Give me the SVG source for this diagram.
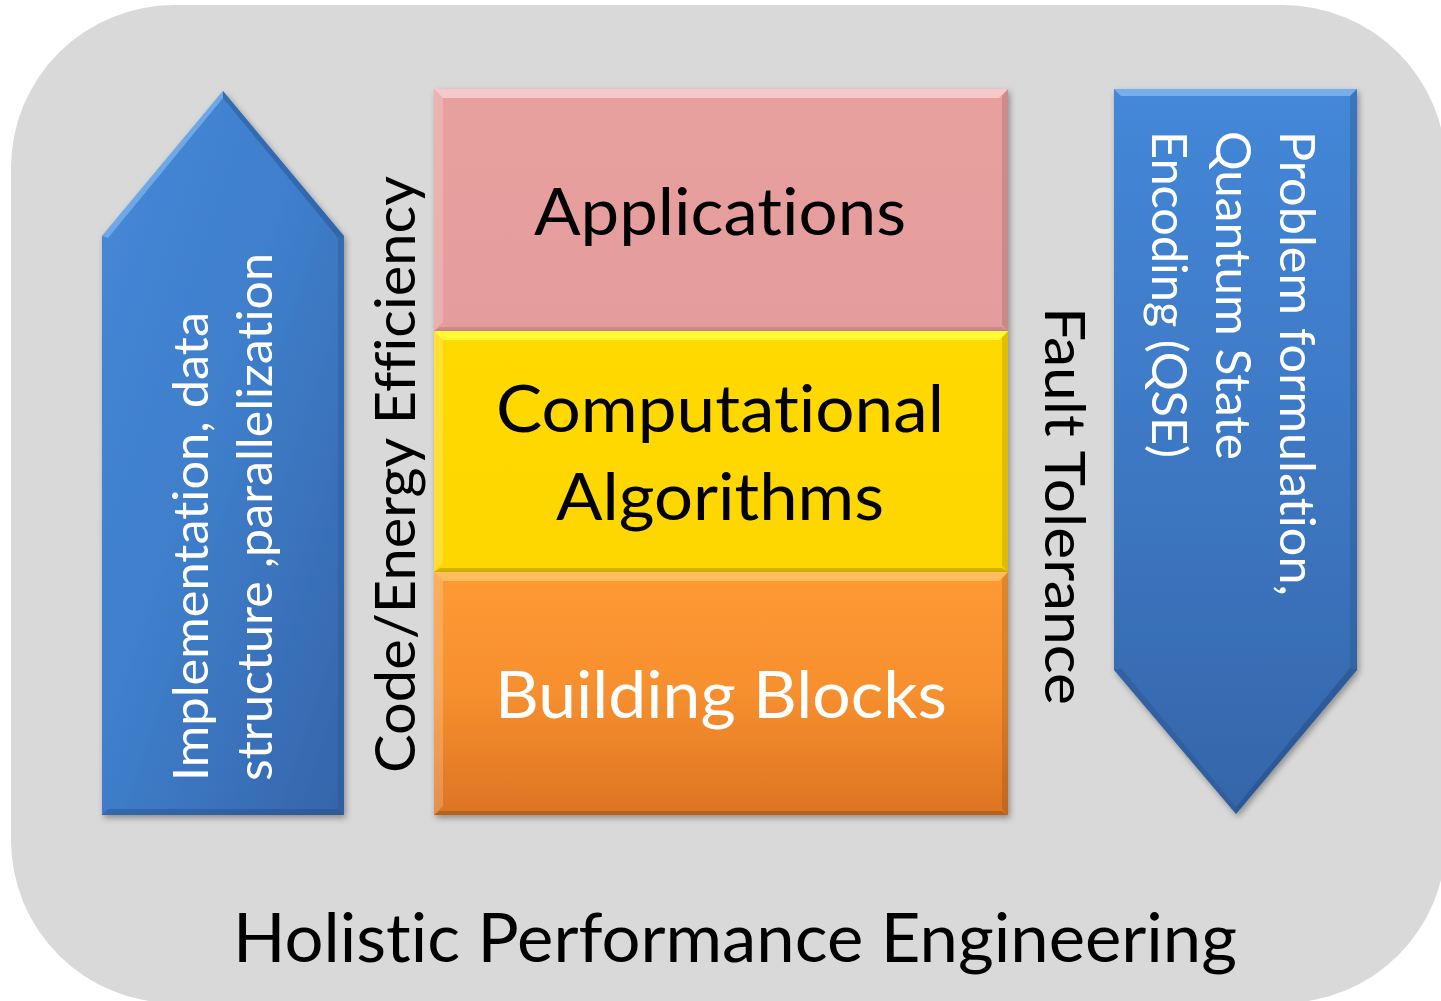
<svg xmlns="http://www.w3.org/2000/svg" width="1441" height="1001" viewBox="0 0 1441 1001">
  <style>
    .lbl { font-family: Lato, "Open Sans", "Liberation Sans", sans-serif; font-variant-ligatures: none; font-feature-settings: "liga" 0, "clig" 0; }
    .dark { fill: #000000; }
    .white { fill: #ffffff; }
    .box-text { font-size: 66px; }
    .side-text { font-size: 57px; }
    .arrow-text { font-size: 49px; }
    .title { font-size: 68px; }
    .hi { fill: #ffffff; opacity: 0.2; }
    .lo { fill: #000000; opacity: 0.12; }
  </style>
  <defs>
    <filter id="shadow" x="-10%" y="-10%" width="120%" height="120%">
      <feDropShadow dx="2" dy="3" stdDeviation="3" flood-color="#000000" flood-opacity="0.35"/>
    </filter>
    <linearGradient id="blueUp" x1="0" y1="0" x2="1" y2="1">
      <stop offset="0" stop-color="#4688d8"/>
      <stop offset="0.45" stop-color="#3f7fcc"/>
      <stop offset="1" stop-color="#3565aa"/>
    </linearGradient>
    <linearGradient id="blueDown" x1="0" y1="0" x2="0" y2="1">
      <stop offset="0" stop-color="#4487d8"/>
      <stop offset="0.5" stop-color="#3d78c4"/>
      <stop offset="1" stop-color="#3566a9"/>
    </linearGradient>
    <linearGradient id="pinkFill" x1="0" y1="0" x2="0" y2="1">
      <stop offset="0" stop-color="#e8a09f"/>
      <stop offset="1" stop-color="#e49d9c"/>
    </linearGradient>
    <linearGradient id="yellowFill" x1="0" y1="0" x2="0" y2="1">
      <stop offset="0" stop-color="#ffd906"/>
      <stop offset="1" stop-color="#fed700"/>
    </linearGradient>
    <linearGradient id="orangeFill" x1="0" y1="0" x2="0" y2="1">
      <stop offset="0" stop-color="#ff9a32"/>
      <stop offset="0.5" stop-color="#f68f2e"/>
      <stop offset="1" stop-color="#dd7424"/>
    </linearGradient>
  </defs>

  <!-- backdrop panel -->
  <rect id="panel" x="11" y="5" width="1435" height="998" rx="163" ry="163" fill="#d9d9d9"/>

  <!-- left upward arrow -->
  <g id="arrow-up">
    <polygon points="102,236 223,91 344,236 344,815 102,815" fill="url(#blueUp)" filter="url(#shadow)"/>
    <polygon points="102,236 223,91 223,98 108,238" fill="#8cc0f4" opacity="0.6"/>
    <polygon points="223,91 344,236 338,238 223,98" fill="#24508c" opacity="0.45"/>
    <polygon points="344,236 344,815 338,809 338,238" fill="#24508c" opacity="0.3"/>
    <polygon points="102,815 344,815 338,809 108,809" fill="#1f4478" opacity="0.35"/>
    <text class="lbl white arrow-text" transform="translate(208,781) rotate(-90)" textLength="469" lengthAdjust="spacingAndGlyphs">Implementation, data</text>
    <text class="lbl white arrow-text" transform="translate(272,781) rotate(-90)" textLength="528" lengthAdjust="spacingAndGlyphs">structure ,parallelization</text>
  </g>

  <!-- right downward arrow -->
  <g id="arrow-down">
    <polygon points="1114,89 1357,89 1357,670 1236,814 1114,670" fill="url(#blueDown)" filter="url(#shadow)"/>
    <polygon points="1114,89 1357,89 1350,96 1121,96" fill="#8cc0f4" opacity="0.7"/>
    <polygon points="1357,89 1357,670 1350,668 1350,96" fill="#24508c" opacity="0.3"/>
    <polygon points="1357,670 1236,814 1236,807 1350,668" fill="#1f4478" opacity="0.4"/>
    <polygon points="1114,670 1236,814 1236,807 1121,668" fill="#1f4478" opacity="0.25"/>
    <text class="lbl white arrow-text" transform="translate(1280,131) rotate(90)" textLength="465" lengthAdjust="spacingAndGlyphs">Problem formulation,</text>
    <text class="lbl white arrow-text" transform="translate(1216,131) rotate(90)" textLength="329" lengthAdjust="spacingAndGlyphs">Quantum State</text>
    <text class="lbl white arrow-text" transform="translate(1152,131) rotate(90)" textLength="327" lengthAdjust="spacingAndGlyphs">Encoding (QSE)</text>
  </g>

  <!-- layered stack -->
  <g id="applications">
    <rect x="434" y="89" width="574" height="242" fill="url(#pinkFill)" filter="url(#shadow)"/>
    <polygon points="434,89 1008,89 999,98 443,98" fill="#f9cfcf" opacity="0.85"/>
    <polygon points="434,89 443,98 443,322 434,331" class="hi"/>
    <polygon points="1008,89 1008,331 1002,325 1002,96" class="lo"/>
    <polygon points="434,331 1008,331 1002,327 440,327" fill="#b07070" opacity="0.4"/>
    <text class="lbl dark box-text" x="534" y="235" textLength="372" lengthAdjust="spacingAndGlyphs">Applications</text>
  </g>

  <g id="algorithms">
    <rect x="434" y="331" width="574" height="241" fill="url(#yellowFill)" filter="url(#shadow)"/>
    <polygon points="434,331 1008,331 999,340 443,340" fill="#ffff3c" opacity="0.85"/>
    <polygon points="434,331 443,340 443,563 434,572" class="hi"/>
    <polygon points="1008,331 1008,572 1002,566 1002,338" class="lo"/>
    <polygon points="434,572 1008,572 1002,568 440,568" fill="#9a8200" opacity="0.4"/>
    <text class="lbl dark box-text" x="496" y="432" textLength="448" lengthAdjust="spacingAndGlyphs">Computational</text>
    <text class="lbl dark box-text" x="556" y="520" textLength="328" lengthAdjust="spacingAndGlyphs">Algorithms</text>
  </g>

  <g id="building-blocks">
    <rect x="434" y="572" width="574" height="243" fill="url(#orangeFill)" filter="url(#shadow)"/>
    <polygon points="434,572 1008,572 999,581 443,581" fill="#ffc56a" opacity="0.8"/>
    <polygon points="434,572 443,581 443,806 434,815" class="hi"/>
    <polygon points="1008,572 1008,815 1002,809 1002,579" class="lo"/>
    <polygon points="434,815 1008,815 1002,811 440,811" fill="#8a4a10" opacity="0.45"/>
    <text class="lbl white box-text" x="495" y="718" textLength="452" lengthAdjust="spacingAndGlyphs">Building Blocks</text>
  </g>

  <!-- side captions -->
  <g id="code-energy">
    <text class="lbl dark side-text" transform="translate(415,773) rotate(-90)" textLength="597" lengthAdjust="spacingAndGlyphs">Code/Energy Efficiency</text>
  </g>
  <g id="fault-tolerance">
    <text class="lbl dark side-text" transform="translate(1045,307) rotate(90)" textLength="398" lengthAdjust="spacingAndGlyphs">Fault Tolerance</text>
  </g>

  <g id="title">
    <text class="lbl dark title" x="233" y="962" textLength="1004" lengthAdjust="spacingAndGlyphs">Holistic Performance Engineering</text>
  </g>

  <g id="connectors"/>
</svg>
